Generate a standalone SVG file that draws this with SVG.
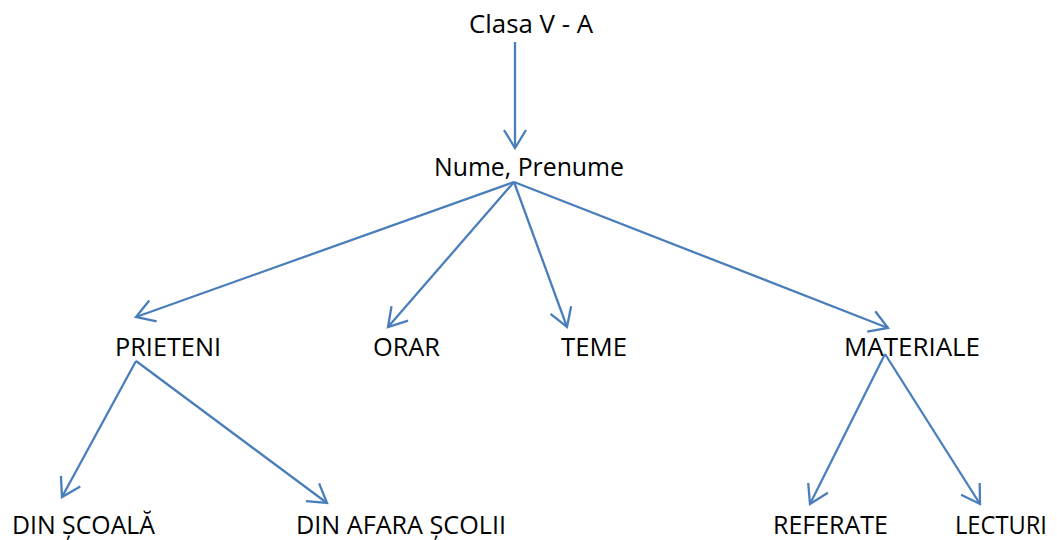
<svg xmlns="http://www.w3.org/2000/svg" width="1057" height="540" viewBox="0 0 1057 540">
<style>
.lbl{font-family:"Open Sans","Liberation Sans",Arial,sans-serif;font-size:25px;fill:#000}
.c{stroke:#4A7EBB;stroke-width:2.3;fill:none;marker-end:url(#arr)}
</style>
<defs>
<marker id="arr" markerUnits="userSpaceOnUse" viewBox="-20 -13 22 26" markerWidth="22" markerHeight="26" refX="0" refY="0" orient="auto" overflow="visible">
<path d="M-18,-11 L0,0 L-18,11" fill="none" stroke="#4A7EBB" stroke-width="2.3"/>
</marker>
</defs>
<rect width="1057" height="540" fill="#fff"/>
<g id="connectors">
<line class="c" x1="515" y1="42" x2="515" y2="148"/>
<line class="c" x1="514" y1="182" x2="136" y2="317"/>
<line class="c" x1="514" y1="182" x2="388" y2="327"/>
<line class="c" x1="514" y1="182" x2="567" y2="327"/>
<line class="c" x1="514" y1="182" x2="888" y2="328"/>
<line class="c" x1="136" y1="361" x2="62" y2="497"/>
<line class="c" x1="136" y1="361" x2="327" y2="503"/>
<line class="c" x1="885" y1="354" x2="810" y2="504"/>
<line class="c" x1="885" y1="354" x2="980" y2="504"/>
</g>
<g id="clasa"><text class="lbl" x="469" y="33" textLength="124" lengthAdjust="spacingAndGlyphs">Clasa V - A</text></g>
<g id="nume"><text class="lbl" x="434" y="176" textLength="190" lengthAdjust="spacingAndGlyphs">Nume, Prenume</text></g>
<g id="prieteni"><text class="lbl" x="115" y="356" textLength="106" lengthAdjust="spacingAndGlyphs">PRIETENI</text></g>
<g id="orar"><text class="lbl" x="373" y="356" textLength="67" lengthAdjust="spacingAndGlyphs">ORAR</text></g>
<g id="teme"><text class="lbl" x="561" y="356" textLength="66" lengthAdjust="spacingAndGlyphs">TEME</text></g>
<g id="materiale"><text class="lbl" x="844" y="356" textLength="136" lengthAdjust="spacingAndGlyphs">MATERIALE</text></g>
<g id="din-scoala"><text class="lbl" x="12" y="534" textLength="143" lengthAdjust="spacingAndGlyphs">DIN ȘCOALĂ</text></g>
<g id="din-afara"><text class="lbl" x="296" y="534" textLength="210" lengthAdjust="spacingAndGlyphs">DIN AFARA ȘCOLII</text></g>
<g id="referate"><text class="lbl" x="773" y="534" textLength="115" lengthAdjust="spacingAndGlyphs">REFERATE</text></g>
<g id="lecturi"><text class="lbl" x="955" y="534" textLength="92" lengthAdjust="spacingAndGlyphs">LECTURI</text></g>
</svg>
